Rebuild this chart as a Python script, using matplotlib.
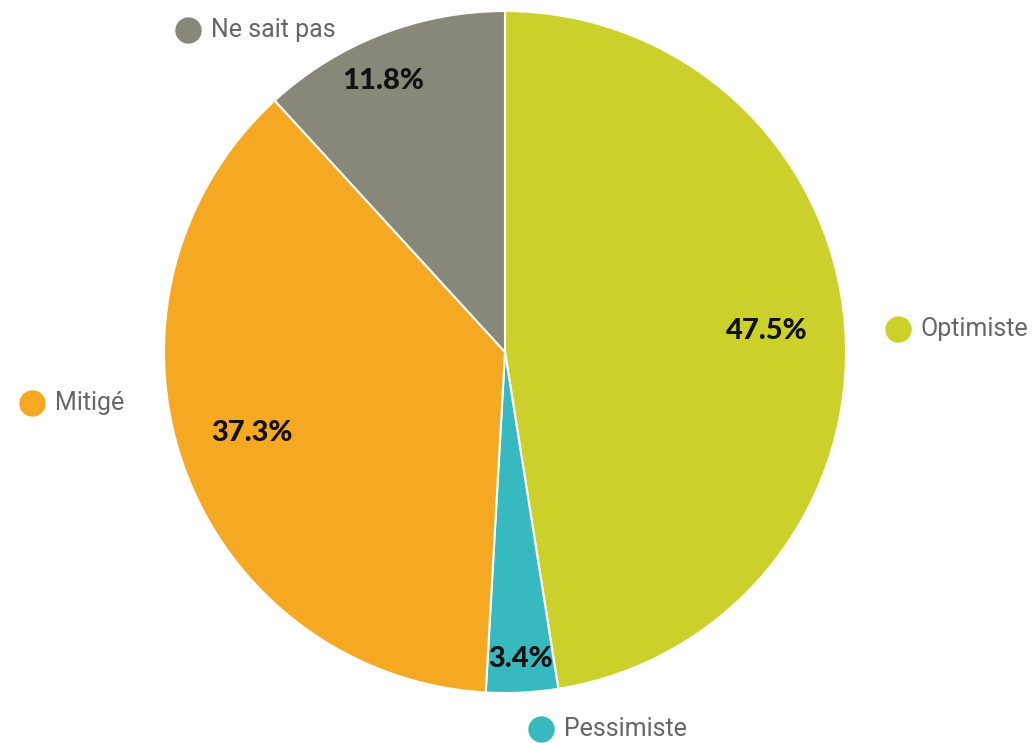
import matplotlib
matplotlib.use("Agg")
import matplotlib.pyplot as plt
import numpy as np

# data
labels = ["Optimiste", "Pessimiste", "Mitigé", "Ne sait pas"]
values = [47.5, 3.4, 37.3, 11.8]
colors = ["#cbd12a", "#36b9bf", "#f5a922", "#87877a"]

# layout (pixels, origin bottom-left)
W, H = 1036, 743
center = (505, H - 352)
radius = 341
pct_radius = [0.77, 0.90, 0.78, 0.87]
pct_shift = [0, 0, -2, 3]  # small angle tweaks, degrees
label_pos = [(898, H - 329), (541, H - 729), (32, H - 403), (188, H - 30)]

fig = plt.figure(figsize=(W / 100, H / 100), dpi=100)
ax = fig.add_axes([0, 0, 1, 1])

wedges, _ = ax.pie(values, colors=colors, startangle=90, counterclock=False,
                   center=center, radius=radius, frame=True,
                   wedgeprops=dict(edgecolor="white", linewidth=1.5))
ax.set_xlim(0, W)
ax.set_ylim(0, H)
ax.axis("off")

for w, v, r, s in zip(wedges, values, pct_radius, pct_shift):
    ang = np.deg2rad((w.theta1 + w.theta2) / 2 + s)
    x = center[0] + radius * r * np.cos(ang)
    y = center[1] + radius * r * np.sin(ang)
    ax.text(x, y, f"{v}%", ha="center", va="center", fontsize=21,
            fontweight="black", family="Lato", color="#111111")

for (x, y), lab, c in zip(label_pos, labels, colors):
    ax.plot(x, y, "o", ms=19, color=c, mec="none")
    ax.text(x + 23, y, lab, ha="left", va="center", fontsize=18,
            family="Roboto", color="#666666")

fig.savefig("out.png", dpi=100)
